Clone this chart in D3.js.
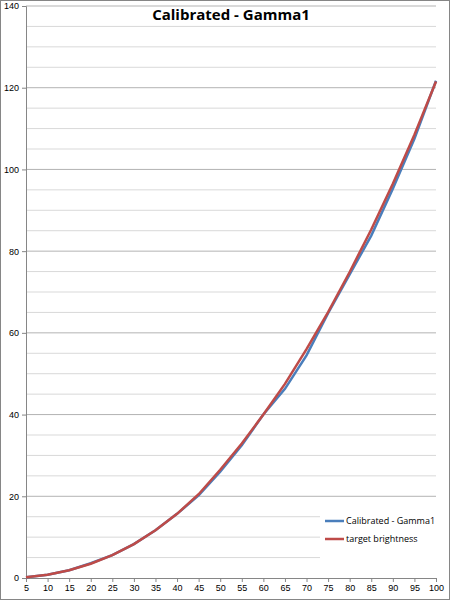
<!DOCTYPE html>
<html><head><meta charset="utf-8">
<script src="https://cdn.jsdelivr.net/npm/d3@7"></script>
<style>body{margin:0;background:#fff}svg{display:block;font-family:"Open Sans",sans-serif}</style>
</head><body><svg id="c" width="450" height="600"></svg>
<script>
const categories=[5,10,15,20,25,30,35,40,45,50,55,60,65,70,75,80,85,90,95,100];
const calibrated=[0.2,0.8,1.9,3.6,5.6,8.3,11.7,15.7,20.2,26.0,32.5,40.0,46.3,54.5,64.8,74.3,83.8,95.3,107.5,121.7];
const target=[0.2,0.8,1.9,3.5,5.6,8.3,11.7,15.7,20.5,26.5,32.9,40.0,47.5,56.0,65.1,74.9,85.3,96.5,108.5,121.5];
const yTicks=[0,20,40,60,80,100,120,140];
const seriesNames=["Calibrated - Gamma1","target brightness"];
const colors=["#4a7ebb","#be4b48"];
const svg=d3.select("#c");
svg.append("rect").attr("x",0.5).attr("y",0.5).attr("width",449).attr("height",599).attr("fill","#fff").attr("stroke","#868686");
const L=26,R=436,T=6,B=578;
const x=d3.scalePoint().domain(categories).range([L,R]);
const y=d3.scaleLinear().domain([0,140]).range([B,T]);
const minor=d3.range(5,140,5).filter(v=>v%20);
const g=svg.append("g");
minor.forEach(v=>g.append("line").attr("x1",L).attr("x2",v<20?320:R).attr("y1",y(v)).attr("y2",y(v)).attr("stroke","#d9d9d9"));
yTicks.slice(1).forEach(v=>g.append("line").attr("x1",L).attr("x2",R).attr("y1",y(v)).attr("y2",y(v)).attr("stroke","#b3b3b3"));
const ya=svg.append("g").attr("transform",`translate(${L},0)`).call(d3.axisLeft(y).tickValues(yTicks).tickSize(4).tickPadding(3));
const xa=svg.append("g").attr("transform",`translate(0,${B})`).call(d3.axisBottom(x).tickSize(4).tickPadding(3));
[ya,xa].forEach(a=>{a.selectAll("path,line").attr("stroke","#868686");a.selectAll("text").attr("font-size",9).attr("fill","#000");});
const line=d3.line().x((d,i)=>x(categories[i])).y(d=>y(d));
[calibrated,target].forEach((s,i)=>svg.append("path").datum(s).attr("d",line).attr("fill","none").attr("stroke",colors[i]).attr("stroke-width",2.5));
svg.append("text").attr("x",231).attr("y",20).attr("text-anchor","middle").attr("font-size",15).attr("font-weight","bold").text("Calibrated - Gamma1");
seriesNames.forEach((n,i)=>{const yy=521+i*18;
 svg.append("line").attr("x1",325).attr("x2",344).attr("y1",yy).attr("y2",yy).attr("stroke",colors[i]).attr("stroke-width",2.5);
 svg.append("text").attr("x",346).attr("y",yy+3).attr("font-size",9).text(n);});
</script></body></html>
